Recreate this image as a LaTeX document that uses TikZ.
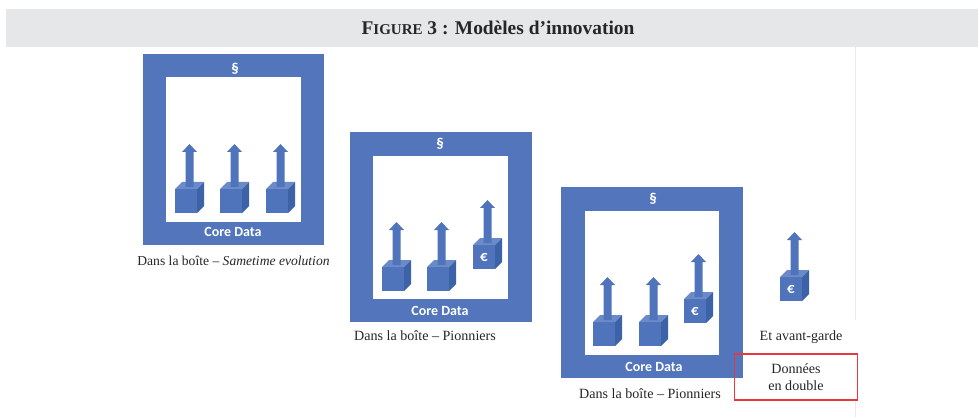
\documentclass[tikz,border=0pt]{standalone}
\usepackage{fontspec}
\usepackage{graphicx}
\setmainfont{Liberation Serif}
\newfontfamily\corefont{Carlito}
\usepackage{tikz}
\definecolor{boxblue}{HTML}{5275BC}
\definecolor{cubeface}{HTML}{4F74BB}
\definecolor{cubetop}{HTML}{6A8BC8}
\definecolor{cubeside}{HTML}{3C62A8}
\definecolor{bandgray}{HTML}{E6E7E8}
\definecolor{rulegray}{HTML}{E9E9EC}
\definecolor{boxred}{HTML}{E8383F}
\tikzset{
  frametext/.style={text=white,font=\corefont\bfseries\fontsize{14}{14}\selectfont,inner sep=0pt},
  paratext/.style={text=white,font=\corefont\bfseries\fontsize{15}{15}\selectfont,inner sep=0pt},
  captiontext/.style={text=black!85,font=\fontsize{14.1}{17}\selectfont,inner sep=0pt,align=center},
  pics/datacube/.style={code={
    \fill[cubeface] (0,0) rectangle (22,-24);
    \fill[cubetop] (0,-24) -- (7,-31) -- (29,-31) -- (22,-24) -- cycle;
    \fill[cubeside] (22,0) -- (29,-7) -- (29,-31) -- (22,-24) -- cycle;
    \fill[cubeface] (10.5,-26) -- (10.5,-61) -- (7,-61) -- (14.5,-69) -- (22,-61) -- (18.5,-61) -- (18.5,-26) -- cycle;
    \node[text=white,font=\corefont\bfseries\fontsize{15}{15}\selectfont,inner sep=0pt] at (11,-12) {#1};
  }},
  pics/datacube/.default={}
}
\begin{document}
\begin{tikzpicture}[x=1pt,y=-1pt]
\useasboundingbox (0,0) rectangle (978,417);
\fill[white] (0,0) rectangle (978,417);
\fill[bandgray] (6,9) rectangle (978,47);
\node (title) [font=\bfseries\fontsize{19.4}{19.4}\selectfont,text=black!85,inner sep=0pt] at (498,28) {F{\fontsize{15}{15}\selectfont IGURE} 3 : Modèles d’innovation};
\draw[rulegray,line width=1pt] (855.5,47) -- (855.5,320); % page margin
\draw[rulegray,line width=1pt] (855.5,400) -- (855.5,417);

% first box
\fill[boxblue] (143,54) rectangle (324,245);
\fill[white] (166,77) rectangle (301,222);
\node (paraA) [paratext] at (235,69) {§};
\node (coreA) [frametext] at (233,232) {Core Data};
\pic at (175,213) {datacube};
\pic at (220,213) {datacube};
\pic at (266,213) {datacube};
\node (capA) [captiontext,font=\fontsize{13.6}{17}\selectfont] at (233.5,261) {Dans la boîte – \textit{Sametime evolution}};

% second box
\fill[boxblue] (350,132) rectangle (532,322);
\fill[white] (373,156) rectangle (508,299);
\node (paraB) [paratext] at (440,144) {§};
\node (coreB) [frametext] at (440,311) {Core Data};
\pic at (382,291) {datacube};
\pic at (427,291) {datacube};
\pic at (473,269) {datacube={€}};
\node (capB) [captiontext] at (425,336) {Dans la boîte – Pionniers};

% third box
\fill[boxblue] (561,187) rectangle (743,378);
\fill[white] (585,211) rectangle (719,355);
\node (paraC) [paratext] at (653,199) {§};
\node (coreC) [frametext] at (654,367) {Core Data};
\pic at (593,346) {datacube};
\pic at (639,346) {datacube};
\pic at (684,323) {datacube={€}};
\node (capC) [captiontext] at (650,394) {Dans la boîte – Pionniers};

% outside the box
\pic at (780,301) {datacube={€}};
\node (capD) [captiontext] at (801,337) {Et avant-garde};
\node (dupl) [captiontext,draw=boxred,line width=1.2pt,minimum width=123pt,minimum height=46pt] at (796,377) {Données\\en double};
\end{tikzpicture}
\end{document}
